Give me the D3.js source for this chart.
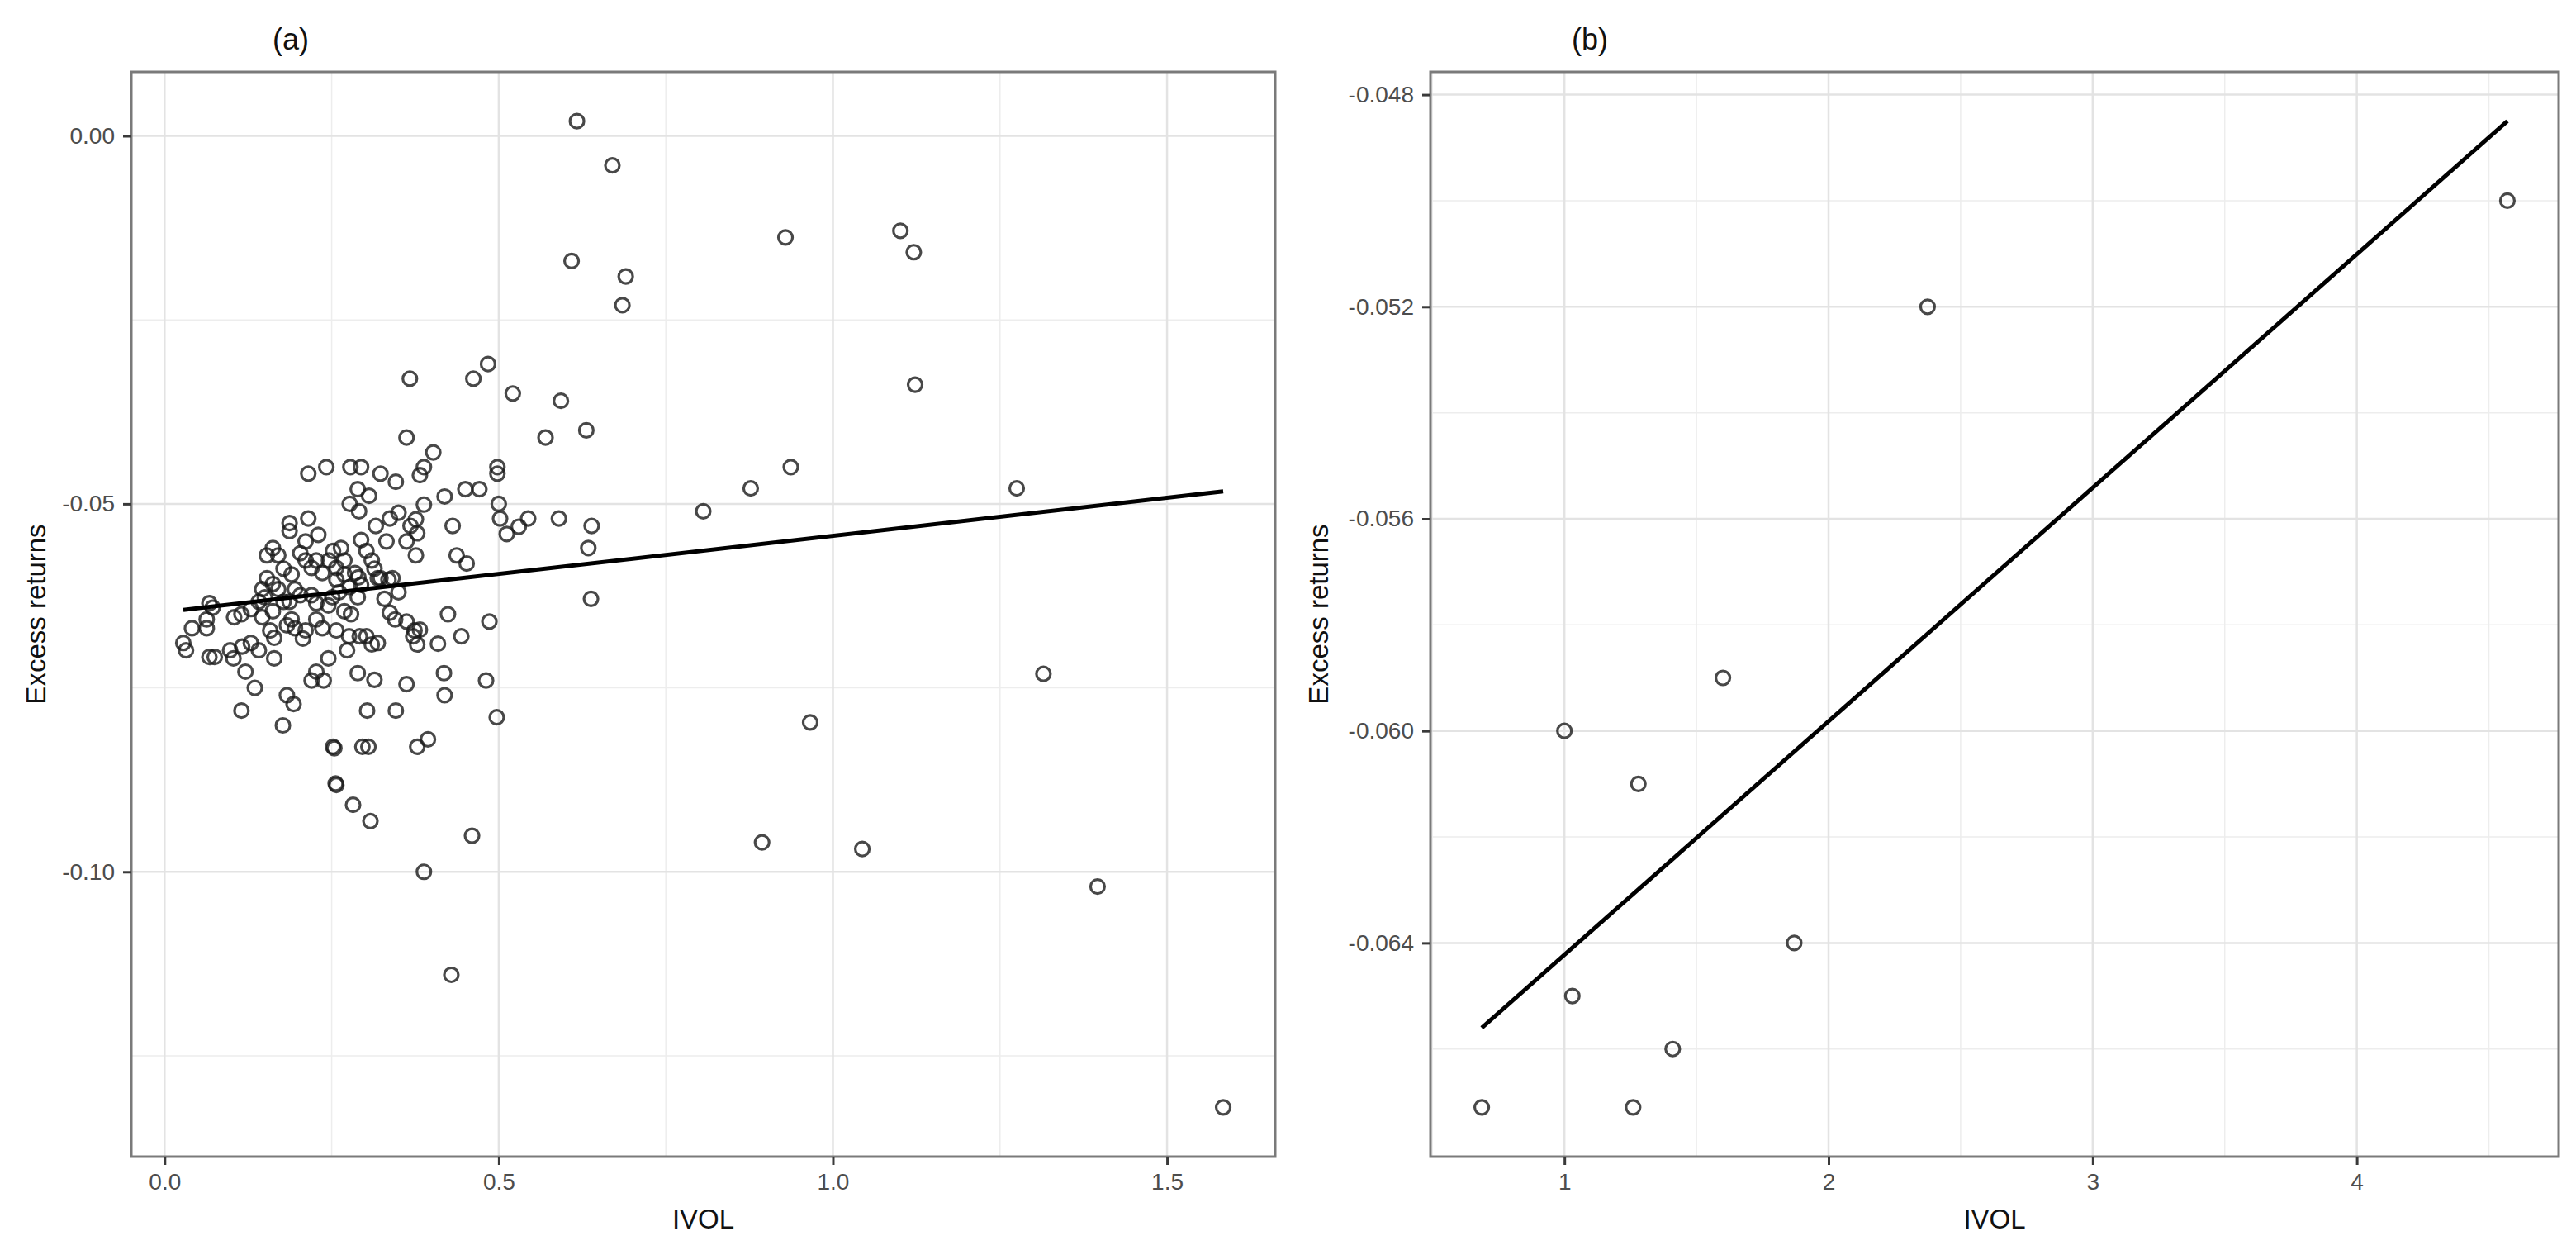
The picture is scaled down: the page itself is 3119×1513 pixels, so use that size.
<!DOCTYPE html>
<html>
<head>
<meta charset="utf-8">
<script src="https://cdn.jsdelivr.net/npm/d3@7"></script>
<style>
  body { margin: 0; background: #fff; }
  svg { display: block; font-family: "Liberation Sans", Arial, sans-serif; }
  .grid-major { stroke: #e3e3e3; stroke-width: 2.5; }
  .grid-minor { stroke: #ededed; stroke-width: 1.5; }
  .border { fill: none; stroke: #7a7a7a; stroke-width: 3; }
  .axis path { display: none; }
  .axis line { stroke: #3a3a3a; stroke-width: 3; }
  .axis text { fill: #4d4d4d; font-size: 28px; font-family: "Liberation Sans", Arial, sans-serif; }
  .dot { fill: none; stroke: #1a1a1a; stroke-opacity: 0.8; stroke-width: 3.2; }
  .fit { fill: none; stroke: #000; stroke-width: 5; }
  .axis-title { fill: #111; font-size: 33px; }
  .panel-title { fill: #111; font-size: 36px; }
</style>
</head>
<body>
<div id="wrapper"></div>
<script>
// panel (a): [IVOL, excess return]
const pointsA = [
  [0.028,-0.0689],[0.032,-0.0699],[0.041,-0.0669],[0.063,-0.0657],[0.063,-0.0669],[0.067,-0.0635],
  [0.072,-0.0641],[0.067,-0.0708],[0.075,-0.0708],[0.098,-0.0699],
  [0.103,-0.0710],[0.104,-0.0654],[0.115,-0.0650],[0.116,-0.0694],[0.121,-0.0728],[0.129,-0.0643],
  [0.129,-0.0689],[0.135,-0.0750],[0.141,-0.0699],[0.141,-0.0633],[0.146,-0.0616],[0.146,-0.0654],
  [0.150,-0.0627],[0.153,-0.0601],[0.153,-0.0570],[0.158,-0.0672],[0.162,-0.0560],[0.162,-0.0609],
  [0.162,-0.0646],[0.164,-0.0682],[0.164,-0.0710],[0.170,-0.0570],[0.170,-0.0616],[0.115,-0.0781],
  [0.177,-0.0801],[0.178,-0.0588],[0.178,-0.0633],[0.183,-0.0665],[0.183,-0.0760],[0.187,-0.0526],
  [0.187,-0.0537],[0.187,-0.0633],[0.190,-0.0596],[0.190,-0.0657],[0.193,-0.0772],[0.195,-0.0616],
  [0.195,-0.0669],
  [0.203,-0.0567],[0.203,-0.0624],[0.207,-0.0683],[0.211,-0.0551],[0.211,-0.0577],[0.211,-0.0672],
  [0.215,-0.0459],[0.215,-0.0520],[0.220,-0.0587],[0.220,-0.0624],[0.220,-0.0740],[0.227,-0.0728],
  [0.238,-0.0740],[0.227,-0.0577],[0.227,-0.0635],[0.227,-0.0657],[0.230,-0.0542],[0.236,-0.0594],
  [0.236,-0.0669],[0.242,-0.0450],[0.245,-0.0638],[0.245,-0.0710],[0.246,-0.0577],[0.251,-0.0627],
  [0.252,-0.0564],[0.252,-0.0830],[0.254,-0.0832],[0.256,-0.0880],[0.257,-0.0882],[0.257,-0.0587],
  [0.257,-0.0603],[0.257,-0.0672],[0.261,-0.0620],[0.264,-0.0560],[0.269,-0.0577],[0.269,-0.0646],
  [0.269,-0.0596],[0.273,-0.0699],[0.276,-0.0680],[0.277,-0.0500],[0.277,-0.0613],[0.278,-0.0450],
  [0.279,-0.0650],[0.282,-0.0909],[0.285,-0.0594],[0.289,-0.0480],[0.289,-0.0627],[0.289,-0.0730],
  [0.290,-0.0600],[0.291,-0.0510],[0.292,-0.0680],[0.294,-0.0450],[0.294,-0.0549],[0.294,-0.0610],
  [0.296,-0.0830],[0.305,-0.0830],
  [0.302,-0.0564],[0.302,-0.0680],[0.303,-0.0781],[0.306,-0.0489],[0.308,-0.0931],[0.310,-0.0577],
  [0.310,-0.0691],[0.314,-0.0588],[0.314,-0.0739],[0.316,-0.0530],[0.319,-0.0601],[0.319,-0.0689],
  [0.323,-0.0459],[0.323,-0.0601],[0.329,-0.0629],[0.332,-0.0551],[0.335,-0.0603],[0.337,-0.0520],
  [0.337,-0.0648],[0.341,-0.0601],[0.345,-0.0657],[0.346,-0.0470],[0.346,-0.0781],[0.350,-0.0512],
  [0.350,-0.0620],[0.362,-0.0410],[0.362,-0.0551],[0.362,-0.0660],[0.362,-0.0745],[0.367,-0.0330],
  [0.368,-0.0530],[0.372,-0.0680],[0.374,-0.0672],[0.376,-0.0570],[0.376,-0.0521],[0.378,-0.0540],
  [0.378,-0.0691],[0.378,-0.0830],[0.382,-0.0461],[0.382,-0.0671],[0.388,-0.0450],[0.388,-0.0501],
  [0.388,-0.1000],[0.394,-0.0820],
  [0.402,-0.0430],[0.409,-0.0690],[0.418,-0.0730],[0.419,-0.0490],[0.419,-0.0760],[0.424,-0.0650],
  [0.429,-0.1140],[0.431,-0.0530],[0.437,-0.0570],[0.444,-0.0680],[0.450,-0.0480],[0.452,-0.0581],
  [0.460,-0.0951],[0.462,-0.0330],[0.471,-0.0480],[0.481,-0.0740],[0.484,-0.0310],[0.486,-0.0660],
  [0.497,-0.0790],[0.498,-0.0450],[0.498,-0.0459],[0.500,-0.0500],[0.502,-0.0520],[0.512,-0.0541],
  [0.521,-0.0350],[0.530,-0.0531],[0.544,-0.0520],
  [0.570,-0.0410],[0.590,-0.0520],[0.593,-0.0360],[0.609,-0.0170],[0.617,0.0020],[0.631,-0.0400],
  [0.634,-0.0560],[0.638,-0.0629],[0.639,-0.0530],[0.670,-0.0040],[0.685,-0.0230],[0.690,-0.0191],
  [0.806,-0.0510],[0.877,-0.0479],[0.894,-0.0960],[0.929,-0.0138],[0.937,-0.0450],[0.966,-0.0797],
  [1.044,-0.0969],[1.101,-0.0129],[1.121,-0.0158],[1.123,-0.0338],[1.275,-0.0479],[1.315,-0.0731],
  [1.396,-0.1020],[1.584,-0.1320],
]
// fitted line end points, panel (a)
const fitA = [[0.028,-0.0644],[1.584,-0.0483]]
const xTicksA = [0, 0.5, 1.0, 1.5]
const xMinorA = [0.25, 0.75, 1.25]
const yTicksA = [0, -0.05, -0.10]
const yMinorA = [-0.025, -0.075, -0.125]

// panel (b)
const pointsB = [
  [0.687,-0.0671],[1.26,-0.0671],[1.41,-0.0660],[1.03,-0.0650],[1.87,-0.0640],
  [1.28,-0.0610],[1.00,-0.0600],[1.60,-0.0590],[2.375,-0.0520],[4.57,-0.0500],
]
const fitB = [[0.687,-0.0656],[4.57,-0.0485]]
const xTicksB = [1, 2, 3, 4]
const xMinorB = [0.5, 1.5, 2.5, 3.5, 4.5]
const yTicksB = [-0.064, -0.060, -0.056, -0.052, -0.048]
const yMinorB = [-0.066, -0.062, -0.058, -0.054, -0.050]

const locale = d3.formatLocale({decimal: ".", thousands: ",", grouping: [3], currency: ["", ""], minus: "-"})

const dimensions = {
  width: 3119,
  height: 1513,
  top: 87,
  bottom: 1400,
}

const wrapper = d3.select("#wrapper")
  .append("svg")
    .attr("width", dimensions.width)
    .attr("height", dimensions.height)

wrapper.append("rect")
    .attr("width", dimensions.width)
    .attr("height", dimensions.height)
    .attr("fill", "#fff")

// ggplot style 5% expansion
function expand(values) {
  const [lo, hi] = d3.extent(values)
  const pad = (hi - lo) * 0.05
  return [lo - pad, hi + pad]
}

function drawPanel(p) {
  const xScale = d3.scaleLinear()
    .domain(expand(p.points.map(d => d[0]).concat(p.fit.map(d => d[0]))))
    .range([p.left, p.right])
  const yScale = d3.scaleLinear()
    .domain(expand(p.points.map(d => d[1]).concat(p.fit.map(d => d[1]))))
    .range([dimensions.bottom, dimensions.top])

  const panel = wrapper.append("g")

  // grid
  panel.selectAll(".gx-minor")
      .data(p.xMinor)
    .enter().append("line")
      .attr("class", "grid-minor")
      .attr("x1", xScale).attr("x2", xScale)
      .attr("y1", dimensions.top).attr("y2", dimensions.bottom)
  panel.selectAll(".gy-minor")
      .data(p.yMinor)
    .enter().append("line")
      .attr("class", "grid-minor")
      .attr("x1", p.left).attr("x2", p.right)
      .attr("y1", yScale).attr("y2", yScale)
  panel.selectAll(".gx-major")
      .data(p.xTicks)
    .enter().append("line")
      .attr("class", "grid-major")
      .attr("x1", xScale).attr("x2", xScale)
      .attr("y1", dimensions.top).attr("y2", dimensions.bottom)
  panel.selectAll(".gy-major")
      .data(p.yTicks)
    .enter().append("line")
      .attr("class", "grid-major")
      .attr("x1", p.left).attr("x2", p.right)
      .attr("y1", yScale).attr("y2", yScale)

  // points
  panel.selectAll(".dot")
      .data(p.points)
    .enter().append("circle")
      .attr("class", "dot")
      .attr("cx", d => xScale(d[0]))
      .attr("cy", d => yScale(d[1]))
      .attr("r", 8.5)

  // fitted line
  const lineGenerator = d3.line()
    .x(d => xScale(d[0]))
    .y(d => yScale(d[1]))
  panel.append("path")
      .attr("class", "fit")
      .attr("d", lineGenerator(p.fit))

  panel.append("rect")
      .attr("class", "border")
      .attr("x", p.left)
      .attr("y", dimensions.top)
      .attr("width", p.right - p.left)
      .attr("height", dimensions.bottom - dimensions.top)

  // axes
  const xAxis = d3.axisBottom(xScale)
    .tickValues(p.xTicks)
    .tickFormat(locale.format(p.xFormat))
    .tickSize(10)
    .tickPadding(10)
  panel.append("g")
      .attr("class", "axis")
      .attr("transform", `translate(0, ${dimensions.bottom})`)
      .call(xAxis)

  const yAxis = d3.axisLeft(yScale)
    .tickValues(p.yTicks)
    .tickFormat(locale.format(p.yFormat))
    .tickSize(10)
    .tickPadding(10)
  panel.append("g")
      .attr("class", "axis")
      .attr("transform", `translate(${p.left}, 0)`)
      .call(yAxis)

  panel.append("text")
      .attr("class", "axis-title")
      .attr("x", (p.left + p.right) / 2)
      .attr("y", 1487)
      .attr("text-anchor", "middle")
      .text("IVOL")

  panel.append("text")
      .attr("class", "axis-title")
      .attr("transform", `translate(${p.left - p.yTitleOffset}, ${(dimensions.top + dimensions.bottom) / 2}) rotate(-90)`)
      .attr("text-anchor", "middle")
      .text("Excess returns")

  panel.append("text")
      .attr("class", "panel-title")
      .attr("x", p.left + 193)
      .attr("y", 60)
      .attr("text-anchor", "middle")
      .text(p.title)
}

drawPanel({
  title: "(a)",
  points: pointsA,
  fit: fitA,
  left: 159,
  right: 1544,
  xTicks: xTicksA,
  xMinor: xMinorA,
  yTicks: yTicksA,
  yMinor: yMinorA,
  xFormat: ".1f",
  yFormat: ".2f",
  yTitleOffset: 104,
})

drawPanel({
  title: "(b)",
  points: pointsB,
  fit: fitB,
  left: 1732,
  right: 3098,
  xTicks: xTicksB,
  xMinor: xMinorB,
  yTicks: yTicksB,
  yMinor: yMinorB,
  xFormat: "d",
  yFormat: ".3f",
  yTitleOffset: 124,
})
</script>
</body>
</html>
